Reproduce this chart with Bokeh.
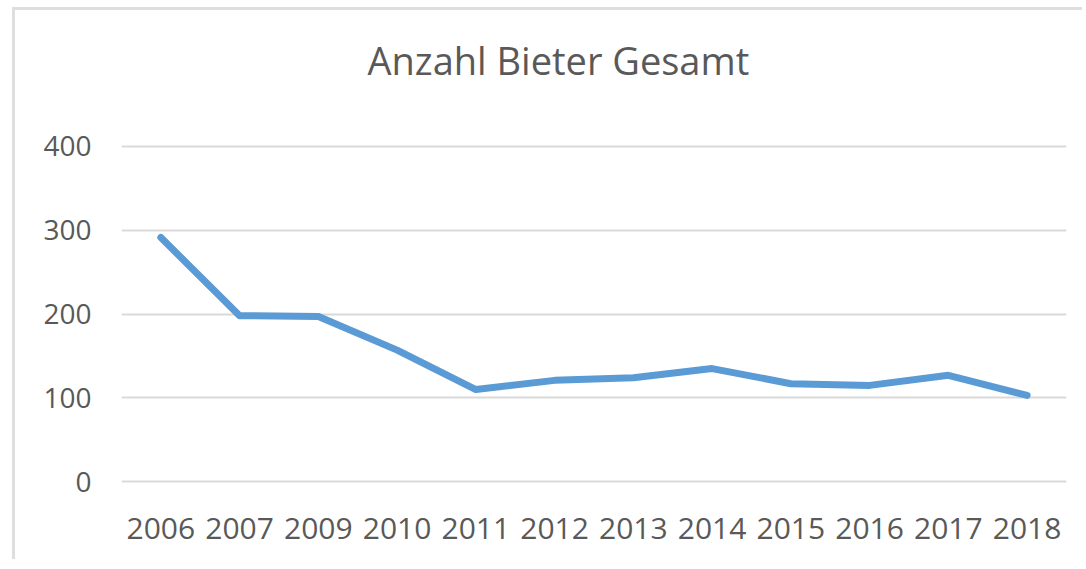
from bokeh.plotting import figure
from bokeh.models import FactorRange, Range1d, FixedTicker, ColumnDataSource, Title
from bokeh.embed import file_html
from bokeh.resources import INLINE

years = ["2006", "2007", "2009", "2010", "2011", "2012", "2013", "2014", "2015", "2016", "2017", "2018"]
bidders = [291, 198, 197, 157, 110, 121, 124, 135, 117, 115, 127, 103]
y_ticks = [0, 100, 200, 300, 400]
title_text = "Anzahl Bieter Gesamt"

FONT = "Open Sans"
TEXT = "#595959"

W, H = 1070, 552
p = figure(
    width=W, height=H,
    x_range=FactorRange(*years, range_padding=0),
    y_range=Range1d(-3, 403),
    output_backend="svg", toolbar_location=None,
    min_border_left=106, min_border_right=19, min_border_top=133, min_border_bottom=78,
)
p.styles = {"margin-left": "12px", "margin-top": "7px",
            "border-left": "3px solid #dedede", "border-top": "3px solid #dedede"}
p.outline_line_color = None
p.background_fill_color = "white"
p.border_fill_color = "white"

src = ColumnDataSource(dict(x=years, y=bidders))
p.line("x", "y", source=src, line_color="#5b9bd5", line_width=7, line_join="round", line_cap="round")

p.xgrid.grid_line_color = None
p.ygrid.grid_line_color = "#d9d9d9"
p.ygrid.grid_line_width = 2

p.yaxis.ticker = FixedTicker(ticks=y_ticks)
for ax in (p.xaxis, p.yaxis):
    ax.axis_line_color = None
    ax.major_tick_line_color = None
    ax.minor_tick_line_color = None
    ax.major_label_text_font = FONT
    ax.major_label_text_color = TEXT
p.yaxis.major_label_text_font_size = "28px"
p.xaxis.major_label_text_font_size = "30px"
p.yaxis.major_label_standoff = 24
p.xaxis.major_label_standoff = 27

# spacer panel between frame and title
spacer = Title(text=" ", text_font_size="1px", standoff=55)
p.add_layout(spacer, "above")

title = Title(text=title_text, align="left", offset=246, standoff=0,
              text_font=FONT, text_font_size="38px", text_color=TEXT,
              text_font_style="normal")
p.add_layout(title, "above")

open("out.html", "w").write(file_html(p, INLINE))
